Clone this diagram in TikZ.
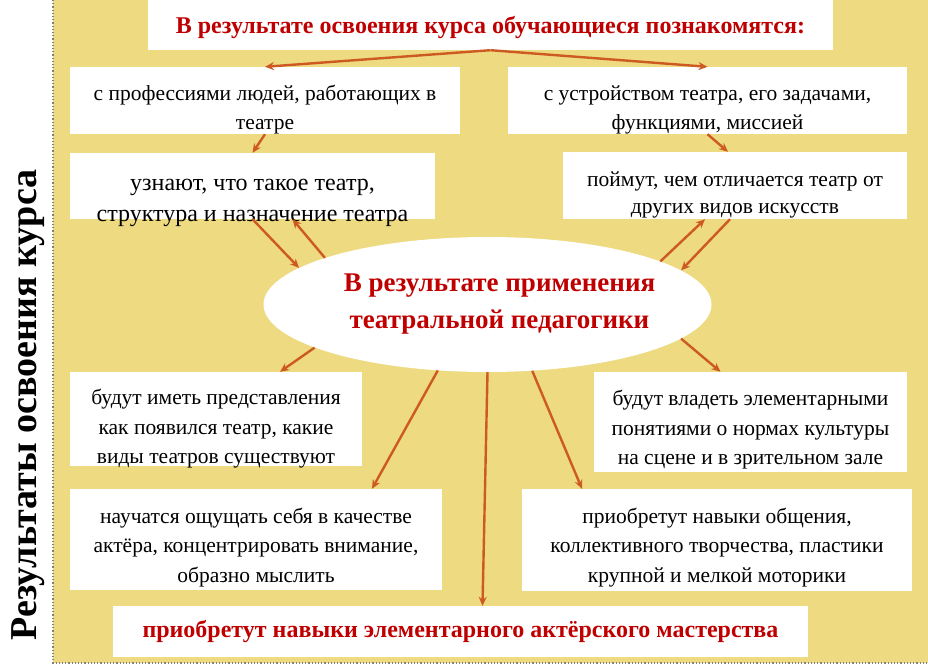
\documentclass[tikz,border=0pt]{standalone}
\usepackage{fontspec}
\setmainfont{Liberation Serif}
\usetikzlibrary{positioning,shapes,arrows.meta}
\definecolor{bgyellow}{RGB}{238,218,128}
\definecolor{arrbrown}{RGB}{205,90,35}
\definecolor{darkred}{RGB}{192,0,0}
\newcommand{\vstrut}[1]{\rule{0pt}{#1}}

\begin{document}
\begin{tikzpicture}[
	x=1pt, y=-1pt,
	resbox/.style={fill=white, rectangle, align=center, inner xsep=0pt, inner ysep=-30pt, font=\fontsize{21.5}{29.5}\selectfont},
	headbox/.style={resbox, text=darkred, font=\bfseries\fontsize{24}{28}\selectfont},
	arr/.style={-{Stealth[length=9pt,width=8pt,inset=3pt]}, draw=arrbrown, line width=2.4pt}
	]
	
	\useasboundingbox (0,0) rectangle (928,666);
	\fill[bgyellow] (53,0) rectangle (928,663);
	\draw[gray, dotted, line width=1.2pt] (53,0) -- (53,663) -- (928,663);
	
	\node[rotate=90, font=\bfseries\fontsize{38}{42}\selectfont] (side) at (28,405) {Результаты освоения курса};
	
	\node[headbox, minimum width=685pt, minimum height=50pt] (top) at (490.5,25) {\vstrut{22pt}В результате освоения курса обучающиеся познакомятся:};
	
	\node[resbox, minimum width=390pt, minimum height=67pt] (prof) at (265,100.5) {\vstrut{34pt}с профессиями людей, работающих в\\театре};
	\node[resbox, minimum width=399pt, minimum height=67pt] (ustr) at (707.5,100.5) {\vstrut{34pt}с устройством театра, его задачами,\\функциями, миссией};
	\node[resbox, minimum width=365pt, minimum height=66pt, font=\fontsize{24}{31}\selectfont] (uzn) at (252.5,186) {\vstrut{46pt}узнают, что такое театр,\\структура и назначение театра};
	\node[resbox, minimum width=344pt, minimum height=67pt, font=\fontsize{21.5}{27}\selectfont] (poim) at (735,185.5) {\vstrut{34pt}поймут, чем отличается театр от\\других видов искусств};
	
	\node[ellipse, fill=white, align=center, inner xsep=-20pt, inner ysep=0pt, minimum width=448pt, minimum height=135pt, text=darkred, font=\bfseries\fontsize{27}{37}\selectfont] (ped) at (487.5,304.5) {\hspace*{24pt}В результате применения\\\hspace*{24pt}театральной педагогики};
	
	\node[resbox, minimum width=292pt, minimum height=94pt] (pred) at (216,419) {\vstrut{35pt}будут иметь представления\\как появился театр, какие\\виды театров существуют};
	\node[resbox, minimum width=313pt, minimum height=100pt] (vlad) at (750.5,422) {\vstrut{31pt}будут владеть элементарными\\понятиями о нормах культуры\\на сцене и в зрительном зале};
	\node[resbox, minimum width=372pt, minimum height=101pt] (nauch) at (256,539.5) {\vstrut{31pt}научатся ощущать себя в качестве\\актёра, концентрировать внимание,\\образно мыслить};
	\node[resbox, minimum width=390pt, minimum height=102pt] (obsh) at (717,540) {\vstrut{30pt}приобретут навыки общения,\\коллективного творчества, пластики\\крупной и мелкой моторики};
	
	\node[headbox, minimum width=695pt, minimum height=51pt] (mast) at (460.5,631.5) {приобретут навыки элементарного актёрского мастерства};
	
	\path (top.south) edge[arr] (prof.north)
	(top.south) edge[arr] (ustr.north)
	(prof.south) edge[arr] (uzn.north)
	(ustr.south) edge[arr] ([xshift=-7pt]poim.north)
	(uzn.south) edge[arr] (ped.169)
	(ped.164) edge[arr] ([xshift=40pt]uzn.south)
	(ped.14) edge[arr] ([xshift=-30pt]poim.south)
	([xshift=-5pt]poim.south) edge[arr] (ped.10)
	(ped.194) edge[arr] ([xshift=64pt]pred.north)
	(ped.233) edge[arr] ([xshift=116pt]nauch.north)
	(ped.270) edge[arr] ([xshift=22pt]mast.north)
	(ped.304) edge[arr] ([xshift=-135pt]obsh.north)
	(ped.350) edge[arr] ([xshift=-30pt]vlad.north);
	
\end{tikzpicture}
\end{document}
